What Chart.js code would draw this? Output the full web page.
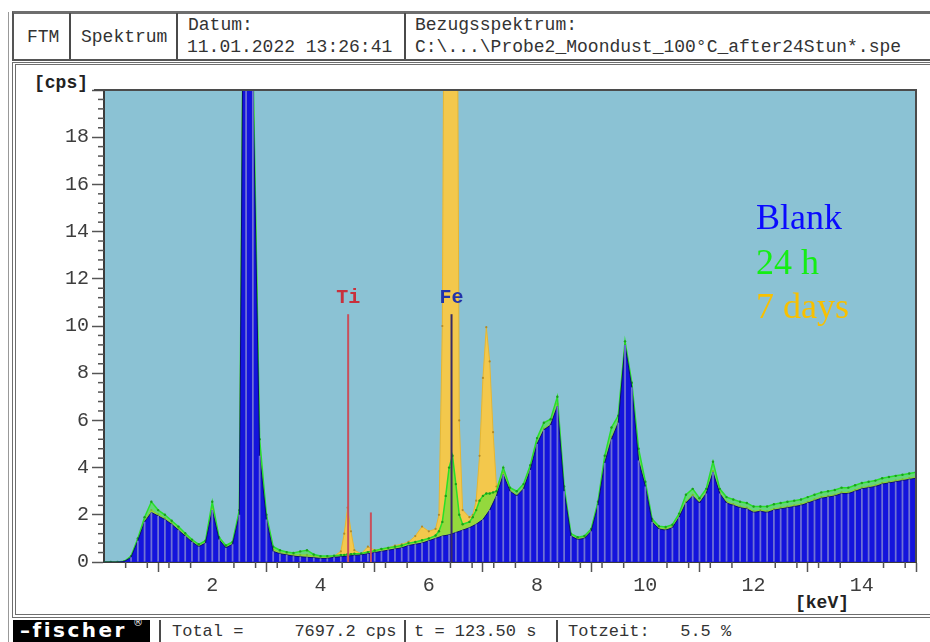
<!DOCTYPE html>
<html>
<head>
<meta charset="utf-8">
<script src="https://cdn.jsdelivr.net/npm/chart.js@4.4.1/dist/chart.umd.min.js"></script>
<style>
body { margin:0; width:930px; height:642px; overflow:hidden; background:#fff; font-family:"Liberation Mono", monospace; color:#333; }
.a { position:absolute; box-sizing:border-box; }
.t { position:absolute; font-size:18px; line-height:20px; white-space:pre; color:#333; }
.f { font-size:17px; }
.v { position:absolute; background:#4a4a4a; width:2px; }
#wrap { position:absolute; left:14px; top:64px; width:910px; height:552px; }
</style>
</head>
<body>
<!-- frame -->
<div class="a" style="left:8px;top:12px;width:1px;height:630px;background:#999"></div>
<div class="a" style="left:12px;top:11px;width:930px;height:50px;border-top:3px solid #6e6e6e;border-left:2px solid #555;border-bottom:2px solid #555"></div>
<div class="v" style="left:69px;top:13px;height:46px"></div>
<div class="v" style="left:176px;top:13px;height:46px"></div>
<div class="v" style="left:404px;top:13px;height:46px"></div>
<div class="t" style="left:27px;top:27px">FTM</div>
<div class="t" style="left:81px;top:27px">Spektrum</div>
<div class="t" style="left:188px;top:15px">Datum:</div>
<div class="t" style="left:187px;top:37px">11.01.2022 13:26:41</div>
<div class="t" style="left:415px;top:15px">Bezugsspektrum:</div>
<div class="t" style="left:415px;top:37px">C:\...\Probe2_Moondust_100°C_after24Stun*.spe</div>

<div class="a" style="left:12px;top:62px;width:930px;height:556px;border-top:3px double #6e6e6e;border-left:4px double #6e6e6e;border-bottom:4px double #6e6e6e"></div>

<!-- footer -->
<div class="a" style="left:13px;top:620px;width:137px;height:22px;background:#000"></div>
<div class="t" style="left:20px;top:619px;color:#fff;font-family:'DejaVu Sans';font-weight:bold;font-size:20px;line-height:22px;letter-spacing:2.5px">&#8211;fischer</div>
<div class="t" style="left:133px;top:618px;color:#fff;font-family:'DejaVu Sans';font-size:10px;line-height:10px">&#174;</div>
<div class="v" style="left:159px;top:620px;height:22px"></div>
<div class="v" style="left:404px;top:620px;height:22px"></div>
<div class="v" style="left:556px;top:620px;height:22px"></div>
<div class="t f" style="left:172px;top:622px">Total =     7697.2 cps</div>
<div class="t f" style="left:414px;top:622px">t = 123.50 s</div>
<div class="t f" style="left:568px;top:622px">Totzeit:   5.5 %</div>

<div class="t" style="left:34px;top:73px;font-weight:bold;color:#222">[cps]</div>
<div class="t" style="left:795px;top:593px;font-weight:bold;color:#222">[keV]</div>

<div id="wrap"><canvas id="spec" width="910" height="552"></canvas></div>

<script>
// channel energies of the blank spectrum (keV)
const blankKeV = [0,0.125,0.25,0.375,0.5,0.625,0.75,0.875,1,1.125,1.25,1.375,1.5,1.625,1.75,1.875,2,2.125,2.25,2.375,
  2.5,2.625,2.75,2.875,3,3.125,3.25,3.375,3.5,3.625,3.75,3.875,4,4.125,4.25,4.375,4.5,4.625,4.75,4.875,
  5,5.125,5.25,5.375,5.5,5.625,5.75,5.875,6,6.125,6.25,6.375,6.5,6.625,6.75,6.875,7,7.125,7.25,7.375,
  7.5,7.625,7.75,7.875,8,8.125,8.25,8.375,8.5,8.625,8.75,8.875,9,9.125,9.25,9.375,9.5,9.625,9.75,9.875,
  10,10.125,10.25,10.375,10.5,10.625,10.75,10.875,11,11.125,11.25,11.375,11.5,11.625,11.75,11.875,12,12.125,12.25,12.375,
  12.5,12.625,12.75,12.875,13,13.125,13.25,13.375,13.5,13.625,13.75,13.875,14,14.125,14.25,14.375,14.5,14.625,14.75,14.875,
  15];
const blankCps = [0,0,0,0.02,0.2,0.9,1.7,2.1,1.95,1.8,1.6,1.35,1.1,0.85,0.65,0.8,2.2,0.95,0.6,0.75,
  2.0,40,20.5,4.5,1.8,0.45,0.35,0.3,0.25,0.22,0.2,0.18,0.15,0.15,0.2,0.22,0.25,0.28,0.3,0.35,
  0.4,0.45,0.5,0.55,0.6,0.7,0.75,0.8,0.9,1.0,1.1,1.15,1.25,1.35,1.45,1.6,1.8,2.2,2.8,3.7,
  3.0,2.8,3.1,3.9,5.0,5.6,5.8,6.6,3.0,1.1,0.95,1.0,1.3,2.4,4.2,5.2,5.9,9.2,7.4,4.3,
  3.2,1.7,1.4,1.35,1.45,1.9,2.5,2.8,2.5,2.9,3.8,2.9,2.5,2.4,2.3,2.25,2.1,2.15,2.1,2.2,
  2.25,2.3,2.35,2.4,2.5,2.6,2.7,2.75,2.8,2.9,2.9,3.0,3.1,3.15,3.2,3.3,3.35,3.4,3.45,3.5,
  3.55];

// energies of the 24 h and 7 days spectra (finer around the peaks)
const sampleKeV = [0,0.125,0.25,0.375,0.5,0.625,0.75,0.875,1,1.125,1.25,1.375,1.5,1.625,1.75,1.875,2,2.125,2.25,2.375,
  2.5,2.625,2.75,2.875,3,3.125,3.25,3.375,3.5,3.625,3.75,3.875,4,4.125,4.25,4.375,4.4375,4.5,4.5625,4.625,
  4.75,4.875,5,5.125,5.25,5.375,5.5,5.625,5.75,5.875,6,6.125,6.1875,6.25,6.3125,6.375,6.4375,6.5,6.5625,6.625,
  6.75,6.8125,6.875,6.9375,7,7.0625,7.125,7.1875,7.25,7.375,7.5,7.625,7.75,7.875,8,8.125,8.25,8.375,8.5,8.625,
  8.75,8.875,9,9.125,9.25,9.375,9.5,9.625,9.75,9.875,10,10.125,10.25,10.375,10.5,10.625,10.75,10.875,11,11.125,
  11.25,11.375,11.5,11.625,11.75,11.875,12,12.125,12.25,12.375,12.5,12.625,12.75,12.875,13,13.125,13.25,13.375,13.5,13.625,
  13.75,13.875,14,14.125,14.25,14.375,14.5,14.625,14.75,14.875,15];
const h24Cps = [0,0,0,0.03,0.25,1.0,1.9,2.55,2.2,2.0,1.75,1.5,1.22,0.95,0.75,0.9,2.55,1.05,0.7,0.85,
  2.2,40,21.5,5.2,2.0,0.65,0.5,0.42,0.38,0.45,0.5,0.32,0.25,0.25,0.27,0.3,0.3,0.33,0.33,0.35,
  0.36,0.42,0.48,0.55,0.6,0.65,0.7,0.8,0.85,0.92,1.0,1.12,1.3,1.7,2.8,4.0,4.5,3.3,2.0,1.6,
  1.7,1.9,2.2,2.6,2.8,2.9,2.9,2.95,3.0,4.0,3.15,3.0,3.3,4.1,5.25,5.9,6.05,7.0,3.2,1.2,
  1.05,1.1,1.4,2.55,4.5,5.7,6.2,9.35,7.6,4.8,3.4,1.82,1.52,1.48,1.58,2.05,2.85,3.1,2.7,3.1,
  4.25,3.1,2.75,2.65,2.55,2.5,2.35,2.35,2.35,2.45,2.5,2.55,2.6,2.65,2.75,2.85,2.95,3.0,3.05,3.15,
  3.15,3.25,3.35,3.4,3.45,3.55,3.6,3.65,3.7,3.75,3.8];
const d7Cps = [0,0,0,0.02,0.22,0.92,1.75,2.2,2.02,1.85,1.65,1.4,1.15,0.88,0.68,0.83,2.3,0.98,0.63,0.78,
  2.1,40,21,4.8,1.9,0.55,0.4,0.35,0.3,0.3,0.3,0.25,0.2,0.2,0.25,0.45,1.2,2.3,1.3,0.5,
  0.35,0.65,0.5,0.55,0.6,0.7,0.75,0.85,1.1,1.5,1.3,1.4,2.0,10,40,45,45,40,6,2.2,
  1.9,2.0,2.6,4.5,7.8,9.95,8.5,5.5,3.2,3.8,3.05,2.85,3.15,3.95,5.05,5.65,5.85,6.7,3.05,1.12,
  0.98,1.03,1.33,2.45,4.25,5.3,5.95,9.25,7.45,4.4,3.25,1.74,1.45,1.4,1.5,1.95,2.55,2.85,2.55,2.95,
  3.85,2.95,2.55,2.45,2.35,2.3,2.15,2.2,2.15,2.25,2.3,2.35,2.4,2.45,2.55,2.65,2.75,2.8,2.85,2.95,
  2.95,3.05,3.15,3.2,3.25,3.35,3.4,3.45,3.5,3.55,3.6];

// element marker lines
const lineKeV = [4.51, 4.93, 6.42];
const lineTop = [10.5, 2.1, 10.5];
const lineName = ['Ti', '', 'Fe'];
const lineColor = ['#c8505c', '#c8505c', '#3a2c66'];
const nameColor = ['#c8303c', '#c8303c', '#2233aa'];

const legendText = ['Blank', '24 h', '7 days'];
const legendColor = ['#0a0aff', '#14ee14', '#f8c000'];

const pts = (xs, ys) => xs.map((x, i) => ({x: x, y: ys[i]}));

const markerSets = lineKeV.map((k, i) => ({
  type: 'line',
  data: [{x: k, y: 0}, {x: k, y: lineTop[i]}],
  borderColor: lineColor[i],
  borderWidth: 2,
  pointRadius: 0,
  fill: false,
  order: -1
}));

const decor = {
  id: 'decor',
  beforeDraw(c) {
    const a = c.chartArea, ctx = c.ctx;
    ctx.save();
    ctx.fillStyle = '#8bc2d4';
    ctx.fillRect(a.left, a.top, a.right - a.left, a.bottom - a.top);
    ctx.restore();
  },
  afterDraw(c) {
    const a = c.chartArea, ctx = c.ctx, x = c.scales.x, y = c.scales.y;
    ctx.save();
    ctx.strokeStyle = '#4b4b4b';
    ctx.lineWidth = 2;
    ctx.beginPath();
    ctx.moveTo(a.left - 10, a.top);
    ctx.lineTo(a.right, a.top);
    ctx.lineTo(a.right, a.bottom);
    ctx.stroke();
    // minor ticks every 0.4
    ctx.lineWidth = 1.5;
    ctx.strokeStyle = '#555';
    for (let i = 1; i < 38; i++) {
      if (i % 5 === 0) continue;
      const px = x.getPixelForValue(i * 0.4);
      ctx.beginPath(); ctx.moveTo(px, a.bottom); ctx.lineTo(px, a.bottom + 6); ctx.stroke();
    }
    for (let i = 1; i < 50; i++) {
      if (i % 5 === 0) continue;
      const py = y.getPixelForValue(i * 0.4);
      ctx.beginPath(); ctx.moveTo(a.left - 6, py); ctx.lineTo(a.left, py); ctx.stroke();
    }
    // element names
    ctx.font = 'bold 20px "Liberation Mono"';
    ctx.textAlign = 'center';
    ctx.textBaseline = 'alphabetic';
    lineName.forEach((n, i) => {
      if (!n) return;
      ctx.fillStyle = nameColor[i];
      ctx.fillText(n, x.getPixelForValue(lineKeV[i]), y.getPixelForValue(lineTop[i]) - 11);
    });
    // legend
    ctx.font = '36px "Liberation Serif"';
    ctx.textAlign = 'left';
    legendText.forEach((t, i) => {
      ctx.fillStyle = legendColor[i];
      ctx.fillText(t, 742, 165 + i * 44.5);
    });
    ctx.restore();
  }
};

const tickFont = {family: '"Liberation Mono", monospace', size: 20};

new Chart(document.getElementById('spec'), {
  type: 'bar',
  data: {
    datasets: [
      {
        // channel stripes of the blank spectrum
        type: 'bar',
        label: 'Blank channels',
        data: pts(blankKeV, blankCps),
        backgroundColor: '#6f72d4',
        borderWidth: 0,
        barPercentage: 0.26,
        categoryPercentage: 1,
        order: 0
      },
      {
        type: 'line',
        label: 'Blank',
        data: pts(blankKeV, blankCps),
        borderColor: '#0c0c78',
        backgroundColor: '#1414dc',
        borderWidth: 1,
        pointRadius: 0,
        fill: 'origin',
        order: 1
      },
      {
        type: 'line',
        label: '24 h',
        data: pts(sampleKeV, h24Cps),
        borderColor: '#28e028',
        backgroundColor: 'rgba(70,230,50,0.55)',
        borderWidth: 1.5,
        pointRadius: 1.2,
        pointBackgroundColor: '#1aa01a',
        pointBorderWidth: 0,
        fill: 'origin',
        order: 2
      },
      {
        type: 'line',
        label: '7 days',
        data: pts(sampleKeV, d7Cps),
        borderColor: '#e6b632',
        backgroundColor: '#f3c84c',
        borderWidth: 1,
        pointRadius: 1.1,
        pointBackgroundColor: '#b08a2a',
        pointBorderWidth: 0,
        fill: 'origin',
        order: 3
      },
      ...markerSets
    ]
  },
  options: {
    responsive: false,
    animation: false,
    devicePixelRatio: 1,
    layout: {padding: {top: 26, right: 8, bottom: 4, left: 0}},
    plugins: {legend: {display: false}, tooltip: {enabled: false}},
    events: [],
    scales: {
      x: {
        type: 'linear',
        min: 0,
        max: 15,
        offset: false,
        afterFit: s => { s.height = 50; },
        ticks: {
          stepSize: 2,
          includeBounds: false,
          autoSkip: false,
          maxRotation: 0,
          font: tickFont,
          color: '#3d3d3d',
          padding: 2,
          callback: v => v === 0 ? '' : v
        },
        grid: {drawOnChartArea: false, tickLength: 10, tickColor: '#555', tickWidth: 1.5},
        border: {display: true, color: '#3c3c3c', width: 2}
      },
      y: {
        min: 0,
        max: 20,
        afterFit: s => { s.width = 90; },
        ticks: {
          stepSize: 2,
          font: tickFont,
          color: '#3d3d3d',
          padding: 3,
          callback: v => v === 20 ? '' : v
        },
        grid: {drawOnChartArea: false, tickLength: 12, tickColor: '#555', tickWidth: 1.5},
        border: {display: true, color: '#3c3c3c', width: 2}
      }
    }
  },
  plugins: [decor]
});
</script>
</body>
</html>
